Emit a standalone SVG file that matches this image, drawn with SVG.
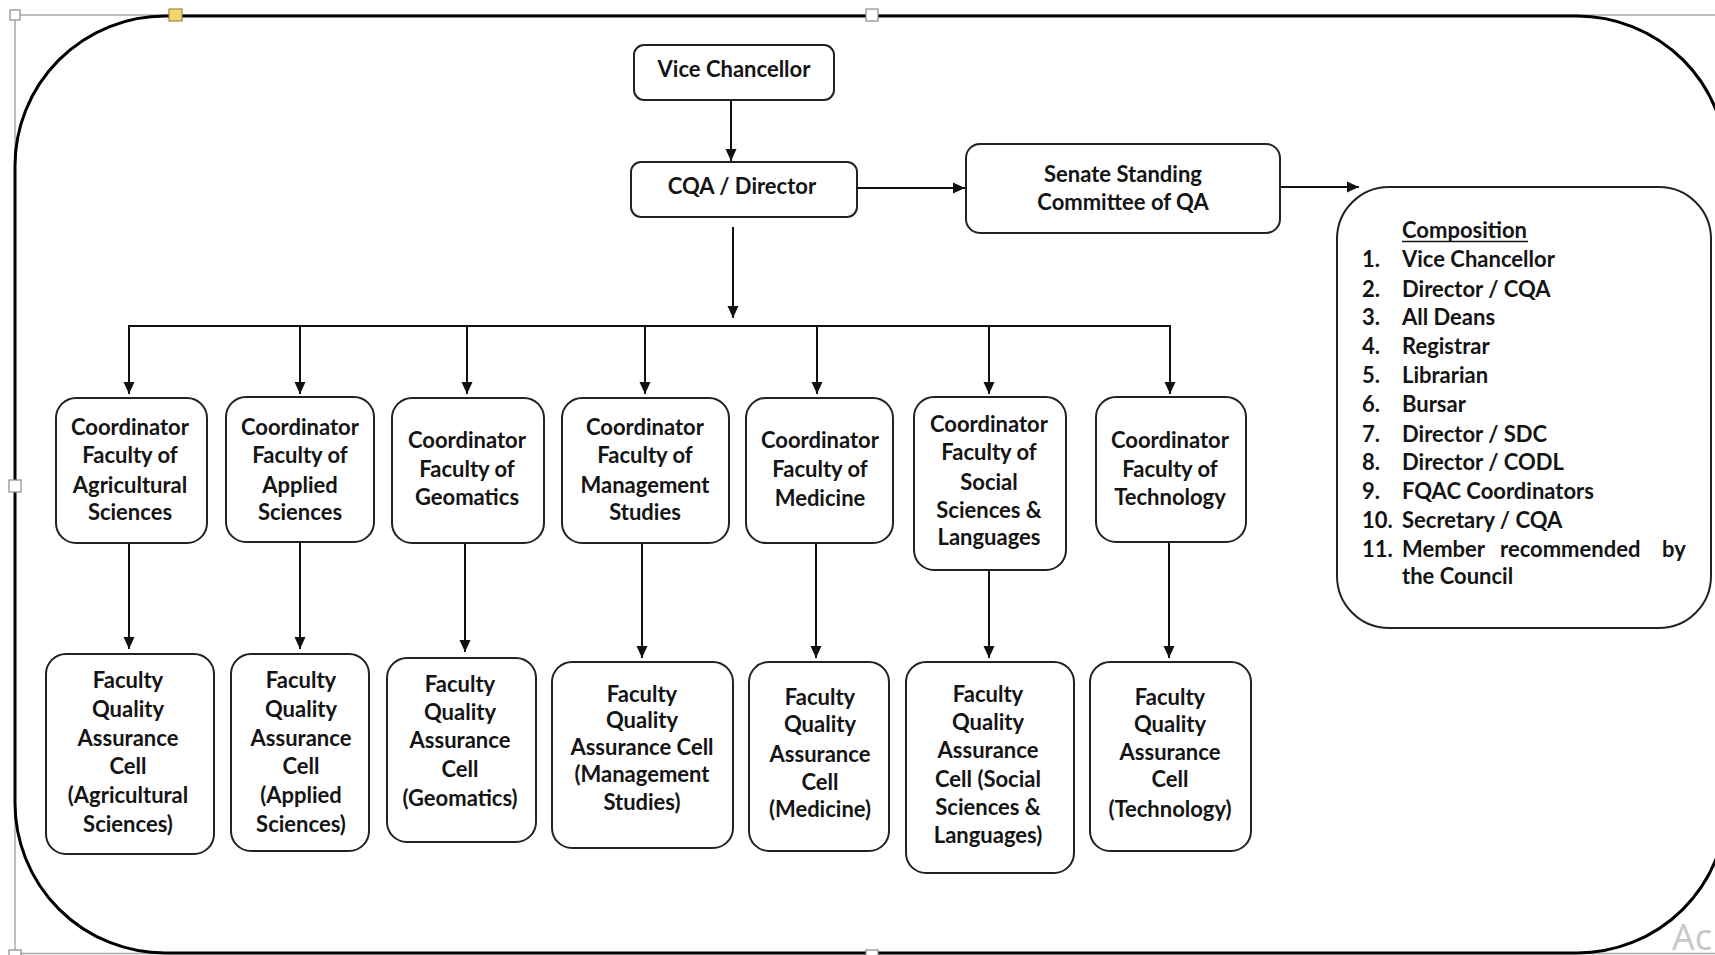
<svg xmlns="http://www.w3.org/2000/svg" width="1715" height="955" viewBox="0 0 1715 955">
<style>
.node rect{fill:#fff;stroke:#222;stroke-width:2}
.t{font-family:Lato,"Liberation Sans",sans-serif;font-size:22px;font-weight:bold;fill:#141414;text-anchor:middle}
.l{font-family:Lato,"Liberation Sans",sans-serif;font-size:22px;font-weight:bold;fill:#141414}
.c line{stroke:#111;stroke-width:2}
.sel{stroke:#a8a8a8;stroke-width:1.5;fill:none}
.h{fill:#fff;stroke:#8a8a8a;stroke-width:1.2}
</style>
<defs>
<marker id="ah" markerUnits="userSpaceOnUse" markerWidth="12" markerHeight="12" refX="12" refY="6" orient="auto">
<path d="M0,0.5 L12,6 L0,11.5 z" fill="#111"/>
</marker>
</defs>
<rect width="1715" height="955" fill="#fff"/>
<g id="selection">
<line class="sel" x1="15" y1="15" x2="1715" y2="15"/>
<line class="sel" x1="15" y1="15" x2="15" y2="955"/>
<line class="sel" x1="15" y1="953.5" x2="1715" y2="953.5"/>
</g>
<g id="frame">
<rect x="15" y="16" width="1712" height="937" rx="150" ry="150" fill="none" stroke="#000" stroke-width="3"/>
</g>
<g id="handles">
<rect class="h" x="10" y="10" width="10" height="10"/>
<rect x="169" y="9" width="13" height="12" fill="#f5d66a" stroke="#9a8a50" stroke-width="1.2"/>
<rect class="h" x="866" y="9" width="12" height="12"/>
<rect class="h" x="9" y="480" width="12" height="12"/>
<rect class="h" x="9" y="950" width="12" height="12"/>
<rect class="h" x="866" y="950" width="12" height="12"/>
</g>
<g id="connectors" class="c">
<line x1="731" y1="100" x2="731" y2="161" marker-end="url(#ah)"/>
<line x1="857" y1="188" x2="965" y2="188" marker-end="url(#ah)"/>
<line x1="1280" y1="187" x2="1359" y2="187" marker-end="url(#ah)"/>
<line x1="733" y1="227" x2="733" y2="318" marker-end="url(#ah)"/>
<line x1="128" y1="326" x2="1171" y2="326"/>
<line x1="129" y1="326" x2="129" y2="394" marker-end="url(#ah)"/>
<line x1="300" y1="326" x2="300" y2="394" marker-end="url(#ah)"/>
<line x1="467" y1="326" x2="467" y2="394" marker-end="url(#ah)"/>
<line x1="645" y1="326" x2="645" y2="394" marker-end="url(#ah)"/>
<line x1="817" y1="326" x2="817" y2="394" marker-end="url(#ah)"/>
<line x1="989" y1="326" x2="989" y2="394" marker-end="url(#ah)"/>
<line x1="1170" y1="326" x2="1170" y2="394" marker-end="url(#ah)"/>
<line x1="129" y1="543" x2="129" y2="649" marker-end="url(#ah)"/>
<line x1="300" y1="542" x2="300" y2="649" marker-end="url(#ah)"/>
<line x1="465" y1="543" x2="465" y2="652" marker-end="url(#ah)"/>
<line x1="642" y1="543" x2="642" y2="658" marker-end="url(#ah)"/>
<line x1="816" y1="543" x2="816" y2="658" marker-end="url(#ah)"/>
<line x1="989" y1="570" x2="989" y2="658" marker-end="url(#ah)"/>
<line x1="1169" y1="542" x2="1169" y2="658" marker-end="url(#ah)"/>
</g>
<g id="vc" class="node"><rect x="634" y="45" width="200" height="55" rx="10"/><text class="t" x="734" y="77">Vice Chancellor</text></g>
<g id="cqa" class="node"><rect x="631" y="162" width="226" height="55" rx="10"/><text class="t" x="742" y="194">CQA / Director</text></g>
<g id="senate" class="node"><rect x="966" y="144" width="314" height="89" rx="14"/><text class="t" x="1123" y="182">Senate Standing</text><text class="t" x="1123" y="210">Committee of QA</text></g>
<g id="composition" class="node"><rect x="1337" y="187" width="374" height="441" rx="52"/>
<text class="l" x="1402" y="238">Composition</text>
<line x1="1402" y1="241.5" x2="1528" y2="241.5" stroke="#141414" stroke-width="1.6"/>
<text class="l"><tspan x="1362" y="267">1.</tspan><tspan x="1402" y="267">Vice Chancellor</tspan>
<tspan x="1362" y="297">2.</tspan><tspan x="1402" y="297">Director / CQA</tspan>
<tspan x="1362" y="325">3.</tspan><tspan x="1402" y="325">All Deans</tspan>
<tspan x="1362" y="354">4.</tspan><tspan x="1402" y="354">Registrar</tspan>
<tspan x="1362" y="383">5.</tspan><tspan x="1402" y="383">Librarian</tspan>
<tspan x="1362" y="412">6.</tspan><tspan x="1402" y="412">Bursar</tspan>
<tspan x="1362" y="442">7.</tspan><tspan x="1402" y="442">Director / SDC</tspan>
<tspan x="1362" y="470">8.</tspan><tspan x="1402" y="470">Director / CODL</tspan>
<tspan x="1362" y="499">9.</tspan><tspan x="1402" y="499">FQAC Coordinators</tspan>
<tspan x="1362" y="528">10.</tspan><tspan x="1402" y="528">Secretary / CQA</tspan>
<tspan x="1362" y="557">11.</tspan><tspan x="1402" y="557">Member</tspan><tspan x="1500" y="557">recommended</tspan><tspan x="1662" y="557">by</tspan>
<tspan x="1402" y="584">the Council</tspan></text>
</g>
<g id="coord-agri" class="node"><rect x="56" y="398" width="151" height="145" rx="20"/><text class="t"><tspan x="130" y="435">Coordinator</tspan><tspan x="130" y="463">Faculty of</tspan><tspan x="130" y="493">Agricultural</tspan><tspan x="130" y="520">Sciences</tspan></text></g>
<g id="coord-applied" class="node"><rect x="226" y="397" width="148" height="145" rx="20"/><text class="t"><tspan x="300" y="435">Coordinator</tspan><tspan x="300" y="463">Faculty of</tspan><tspan x="300" y="493">Applied</tspan><tspan x="300" y="520">Sciences</tspan></text></g>
<g id="coord-geo" class="node"><rect x="392" y="398" width="152" height="145" rx="20"/><text class="t"><tspan x="467" y="448">Coordinator</tspan><tspan x="467" y="477">Faculty of</tspan><tspan x="467" y="505">Geomatics</tspan></text></g>
<g id="coord-mgmt" class="node"><rect x="562" y="398" width="167" height="145" rx="20"/><text class="t"><tspan x="645" y="435">Coordinator</tspan><tspan x="645" y="463">Faculty of</tspan><tspan x="645" y="493">Management</tspan><tspan x="645" y="520">Studies</tspan></text></g>
<g id="coord-med" class="node"><rect x="746" y="398" width="147" height="145" rx="20"/><text class="t"><tspan x="820" y="448">Coordinator</tspan><tspan x="820" y="477">Faculty of</tspan><tspan x="820" y="506">Medicine</tspan></text></g>
<g id="coord-social" class="node"><rect x="914" y="397" width="152" height="173" rx="20"/><text class="t"><tspan x="989" y="432">Coordinator</tspan><tspan x="989" y="460">Faculty of</tspan><tspan x="989" y="490">Social</tspan><tspan x="989" y="518">Sciences &amp;</tspan><tspan x="989" y="545">Languages</tspan></text></g>
<g id="coord-tech" class="node"><rect x="1096" y="397" width="150" height="145" rx="20"/><text class="t"><tspan x="1170" y="448">Coordinator</tspan><tspan x="1170" y="477">Faculty of</tspan><tspan x="1170" y="505">Technology</tspan></text></g>
<g id="fqac-agri" class="node"><rect x="46" y="654" width="168" height="200" rx="20"/><text class="t"><tspan x="128" y="688">Faculty</tspan><tspan x="128" y="717">Quality</tspan><tspan x="128" y="746">Assurance</tspan><tspan x="128" y="774">Cell</tspan><tspan x="128" y="803">(Agricultural</tspan><tspan x="128" y="832">Sciences)</tspan></text></g>
<g id="fqac-applied" class="node"><rect x="231" y="654" width="138" height="197" rx="20"/><text class="t"><tspan x="301" y="688">Faculty</tspan><tspan x="301" y="717">Quality</tspan><tspan x="301" y="746">Assurance</tspan><tspan x="301" y="774">Cell</tspan><tspan x="301" y="803">(Applied</tspan><tspan x="301" y="832">Sciences)</tspan></text></g>
<g id="fqac-geo" class="node"><rect x="387" y="658" width="149" height="184" rx="20"/><text class="t"><tspan x="460" y="692">Faculty</tspan><tspan x="460" y="720">Quality</tspan><tspan x="460" y="748">Assurance</tspan><tspan x="460" y="777">Cell</tspan><tspan x="460" y="806">(Geomatics)</tspan></text></g>
<g id="fqac-mgmt" class="node"><rect x="552" y="662" width="181" height="186" rx="20"/><text class="t"><tspan x="642" y="702">Faculty</tspan><tspan x="642" y="728">Quality</tspan><tspan x="642" y="755">Assurance Cell</tspan><tspan x="642" y="782">(Management</tspan><tspan x="642" y="810">Studies)</tspan></text></g>
<g id="fqac-med" class="node"><rect x="749" y="662" width="140" height="189" rx="20"/><text class="t"><tspan x="820" y="705">Faculty</tspan><tspan x="820" y="732">Quality</tspan><tspan x="820" y="762">Assurance</tspan><tspan x="820" y="790">Cell</tspan><tspan x="820" y="817">(Medicine)</tspan></text></g>
<g id="fqac-social" class="node"><rect x="906" y="662" width="168" height="211" rx="20"/><text class="t"><tspan x="988" y="702">Faculty</tspan><tspan x="988" y="730">Quality</tspan><tspan x="988" y="758">Assurance</tspan><tspan x="988" y="787">Cell (Social</tspan><tspan x="988" y="815">Sciences &amp;</tspan><tspan x="988" y="843">Languages)</tspan></text></g>
<g id="fqac-tech" class="node"><rect x="1090" y="662" width="161" height="189" rx="20"/><text class="t"><tspan x="1170" y="705">Faculty</tspan><tspan x="1170" y="732">Quality</tspan><tspan x="1170" y="760">Assurance</tspan><tspan x="1170" y="787">Cell</tspan><tspan x="1170" y="817">(Technology)</tspan></text></g>
<text x="1672" y="950" font-family="'Open Sans',sans-serif" font-size="36" fill="#c8c8c8">Ac</text>
</svg>
